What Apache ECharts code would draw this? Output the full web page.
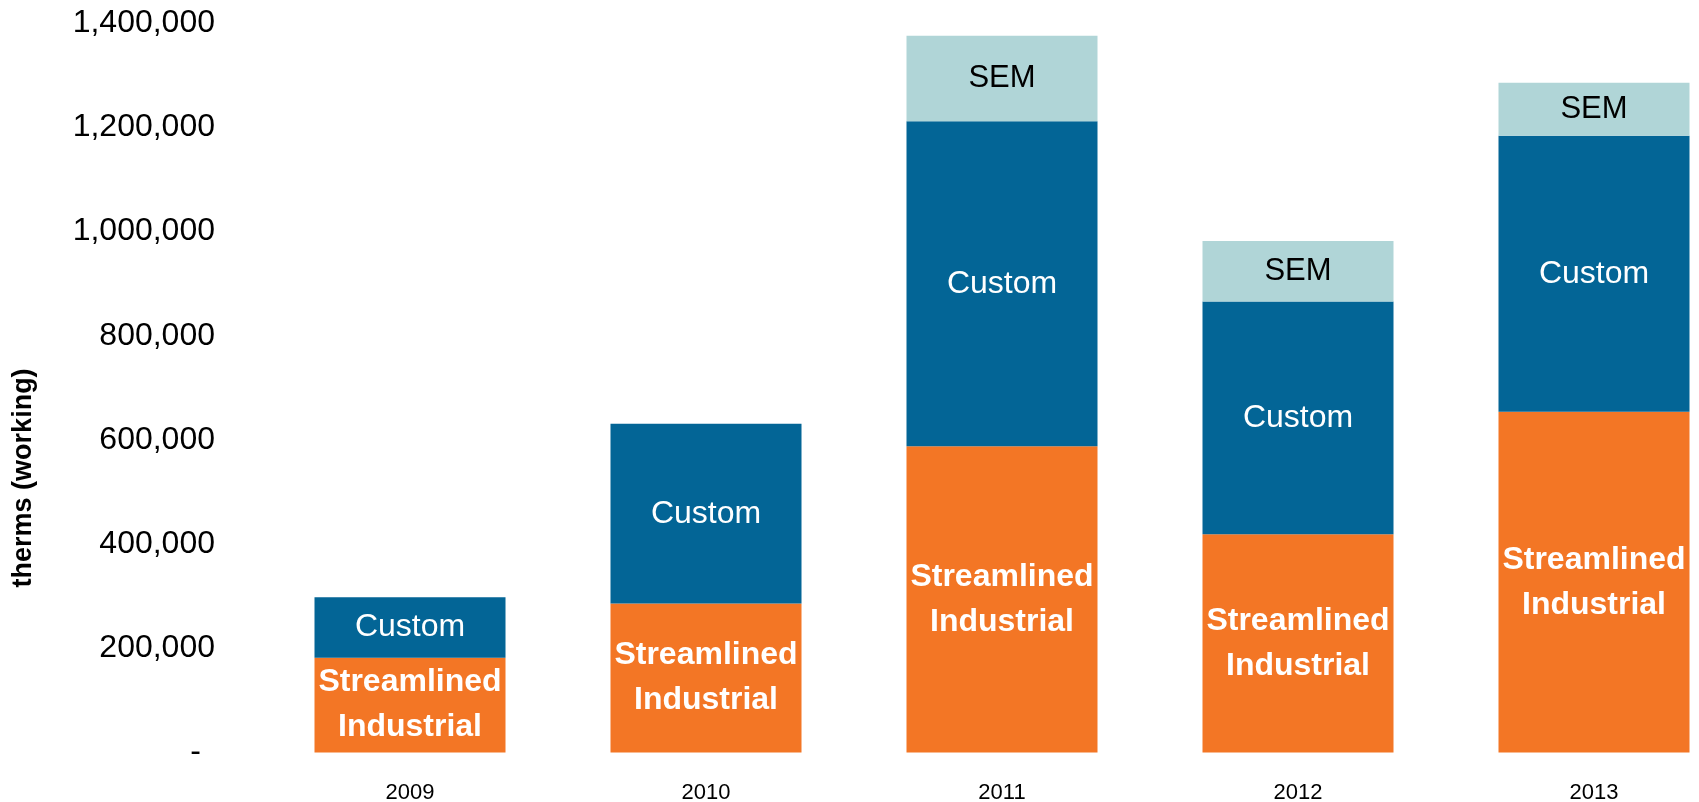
<!DOCTYPE html>
<html>
<head>
<meta charset="utf-8">
<script src="https://cdn.jsdelivr.net/npm/echarts@6/dist/echarts.min.js"></script>
<style>
html,body{margin:0;padding:0;background:#fff;}
#chart{width:1699px;height:802px;}
</style>
</head>
<body>
<div id="chart"></div>
<script>
const years = ['2009', '2010', '2011', '2012', '2013'];
const streamlined = [182000, 286000, 588000, 419000, 654000];
const custom = [116000, 345000, 624000, 447000, 530000];
const sem = [null, null, 164000, 116000, 102000];
const yTicks = { min: 0, max: 1400000, interval: 200000 };
const axisTitle = 'therms (working)';

const FONT = '"Liberation Sans", Arial, sans-serif';
const chart = echarts.init(document.getElementById('chart'));

function fmt(v) {
  if (v === 0) return '{dash|-}';
  return v.toString().replace(/\B(?=(\d{3})+(?!\d))/g, ',');
}

chart.setOption({
  animation: false,
  backgroundColor: '#ffffff',
  grid: { left: 262, top: 23.3, width: 1480, height: 729.2, containLabel: false, outerBoundsMode: 'none' },
  xAxis: {
    type: 'category',
    data: years,
    axisLine: { show: false },
    axisTick: { show: false },
    axisLabel: { color: '#000', fontFamily: FONT, fontSize: 22, margin: 29 }
  },
  yAxis: {
    type: 'value',
    min: yTicks.min, max: yTicks.max, interval: yTicks.interval,
    splitLine: { show: false },
    axisLine: { show: false },
    axisTick: { show: false },
    axisLabel: {
      color: '#000', fontFamily: FONT, fontSize: 32, margin: 47,
      formatter: fmt,
      rich: { dash: { color: '#000', fontFamily: FONT, fontSize: 32, padding: [0, 14, 0, 0] } }
    },
    name: axisTitle,
    nameLocation: 'middle',
    nameGap: 225,
    nameTextStyle: { color: '#000', fontFamily: FONT, fontSize: 27, fontWeight: 'bold', padding: [0, 180, 0, 0] }
  },
  series: [
    {
      name: 'Streamlined Industrial', type: 'bar', stack: 'total', data: streamlined,
      barWidth: 191,
      itemStyle: { color: '#F37625' },
      label: {
        show: true, position: 'inside', formatter: 'Streamlined\nIndustrial',
        color: '#fff', fontFamily: FONT, fontSize: 32, fontWeight: 'bold', lineHeight: 45
      }
    },
    {
      name: 'Custom', type: 'bar', stack: 'total', data: custom,
      barWidth: 191,
      itemStyle: { color: '#036596' },
      label: {
        show: true, position: 'inside', formatter: 'Custom',
        color: '#fff', fontFamily: FONT, fontSize: 32
      }
    },
    {
      name: 'SEM', type: 'bar', stack: 'total', data: sem,
      barWidth: 191,
      itemStyle: { color: '#B0D5D7' },
      label: {
        show: true, position: 'inside', formatter: 'SEM',
        color: '#000', fontFamily: FONT, fontSize: 31
      }
    }
  ]
});
</script>
</body>
</html>
